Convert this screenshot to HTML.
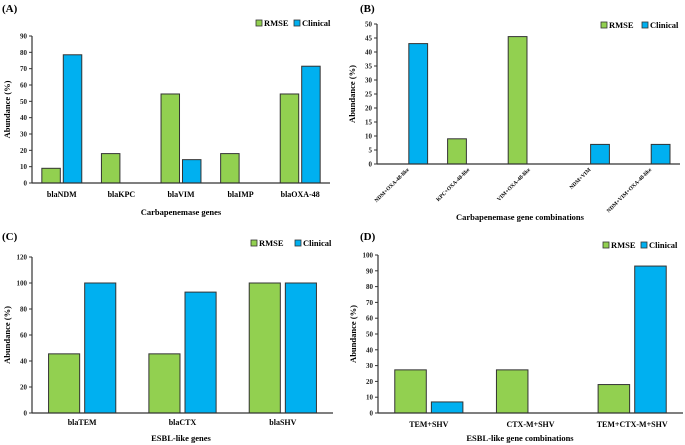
<!DOCTYPE html>
<html><head><meta charset="utf-8"><style>
html,body{margin:0;padding:0;background:#fff}
svg{display:block;font-family:"Liberation Serif",serif;font-weight:bold}
</style></head><body>
<svg id="c" width="685" height="445" viewBox="0 0 685 445"></svg>
<script>
const catsA=["blaNDM","blaKPC","blaVIM","blaIMP","blaOXA-48"];
const rmseA=[9,18,54.5,18,54.5];
const clinA=[78.5,0,14.3,0,71.5];
const ticksA=[0,10,20,30,40,50,60,70,80,90];
const catsB=["NDM+OXA-48-like","KPC+OXA-48-like","VIM+OXA-48-like","NDM+VIM","NDM+VIM+OXA-48-like"];
const rmseB=[0,9,45.5,0,0];
const clinB=[43,0,0,7,7];
const ticksB=[0,5,10,15,20,25,30,35,40,45,50];
const catsC=["blaTEM","blaCTX","blaSHV"];
const rmseC=[45.5,45.5,100];
const clinC=[100,93,100];
const ticksC=[0,20,40,60,80,100,120];
const catsD=["TEM+SHV","CTX-M+SHV","TEM+CTX-M+SHV"];
const rmseD=[27.3,27.3,18];
const clinD=[7,0,93];
const ticksD=[0,10,20,30,40,50,60,70,80,90,100];

const NS="http://www.w3.org/2000/svg";
const svg=document.getElementById('c');
function mk(tag,attrs,parent,text){const e=document.createElementNS(NS,tag);for(const k in attrs)e.setAttribute(k,attrs[k]);if(text!==undefined)e.textContent=text;(parent||svg).appendChild(e);return e;}

function panel(p){
  const g=mk('g',{});
  
  
  const max=p.ticks[p.ticks.length-1];
  const yS=v=>p.y0-(v/max)*(p.y0-p.yTop);
  const cw=(p.x1-p.x0)/p.cats.length;
  const xC=i=>p.x0+cw*(i+0.5);
  const t=mk('text',{x:p.lx,y:p.ly,'font-size':11},g,'('+p.id+')');
  
  
  p.ticks.forEach(v=>{
    const y=yS(v);
    const l=mk('line',{x1:p.x0-3,x2:p.x0,y1:y,y2:y,stroke:'#333','stroke-width':1},g);
    
    
    const tx=mk('text',{x:p.x0-5,y:y+2.5,'font-size':7,'text-anchor':'end',fill:'#222'},g,v);
    
    
  });
  const bw=cw*0.31,gap=cw*0.05;
  p.cats.forEach((c,i)=>{
    const cx=xC(i);
    [[p.r[i],'#92d050',cx-gap/2-bw,'bar-rmse'],[p.c[i],'#00b0f0',cx+gap/2,'bar-clinical']].forEach(([v,col,x,n])=>{
      if(v<=0)return;
      const r=mk('rect',{x:x,y:yS(v),width:bw,height:p.y0-yS(v),fill:col,stroke:'#333','stroke-width':1},g);
      
      
    });
    let lab;
    if(p.rot){
      lab=mk('text',{x:cx+2,y:p.y0+6,'font-size':5.5,'text-anchor':'end',transform:`rotate(-45 ${cx+2} ${p.y0+6})`},g,c);
    } else {
      lab=mk('text',{x:cx,y:p.labY,'font-size':8,'text-anchor':'middle'},g,c);
    }
    
    
  });
  const ya=mk('line',{x1:p.x0,x2:p.x0,y1:p.yTop,y2:p.y0,stroke:'#333','stroke-width':1.2},g);
  
  
  const xa=mk('line',{x1:p.x0,x2:p.x1,y1:p.y0,y2:p.y0,stroke:'#333','stroke-width':1.2},g);
  
  
  const xt=mk('text',{x:p.titleX,y:p.titleY,'font-size':8.5,'text-anchor':'middle'},g,p.xTitle);
  
  
  const ymid=(p.y0+p.yTop)/2;
  const yt=mk('text',{x:p.yTx,y:ymid,'font-size':8.5,'text-anchor':'middle',transform:`rotate(-90 ${p.yTx} ${ymid})`},g,'Abundance (%)');
  
  
  [['RMSE','#92d050',p.legG],['Clinical','#00b0f0',p.legB]].forEach(([n,col,x])=>{
    const s=mk('rect',{x:x,y:p.legY-6,width:6,height:6,fill:col,stroke:'#333','stroke-width':0.8},g);
    
    
    const lt=mk('text',{x:x+8,y:p.legY,'font-size':8.5},g,n);
    
    
  });
}
panel({id:'A',cats:catsA,r:rmseA,c:clinA,ticks:ticksA,x0:32,x1:330,y0:183,yTop:36,lx:2,ly:12,labY:197,titleX:181,titleY:215,xTitle:'Carbapenemase genes',yTx:10,legG:256,legB:294,legY:26});
panel({id:'B',cats:catsB,r:rmseB,c:clinB,ticks:ticksB,x0:377,x1:680,y0:164,yTop:24,lx:360,ly:12,rot:true,titleX:520,titleY:220,xTitle:'Carbapenemase  gene combinations',yTx:355,legG:601,legB:642,legY:28});
panel({id:'C',cats:catsC,r:rmseC,c:clinC,ticks:ticksC,x0:32,x1:333,y0:413,yTop:257,lx:2,ly:240,labY:425,titleX:181,titleY:441,xTitle:'ESBL-like genes',yTx:10,legG:251,legB:295,legY:246});
panel({id:'D',cats:catsD,r:rmseD,c:clinD,ticks:ticksD,x0:378,x1:683,y0:413,yTop:255,lx:360,ly:240,labY:427,titleX:520,titleY:441,xTitle:'ESBL-like gene combinations',yTx:356,legG:603,legB:641,legY:248});
</script>
</body></html>
